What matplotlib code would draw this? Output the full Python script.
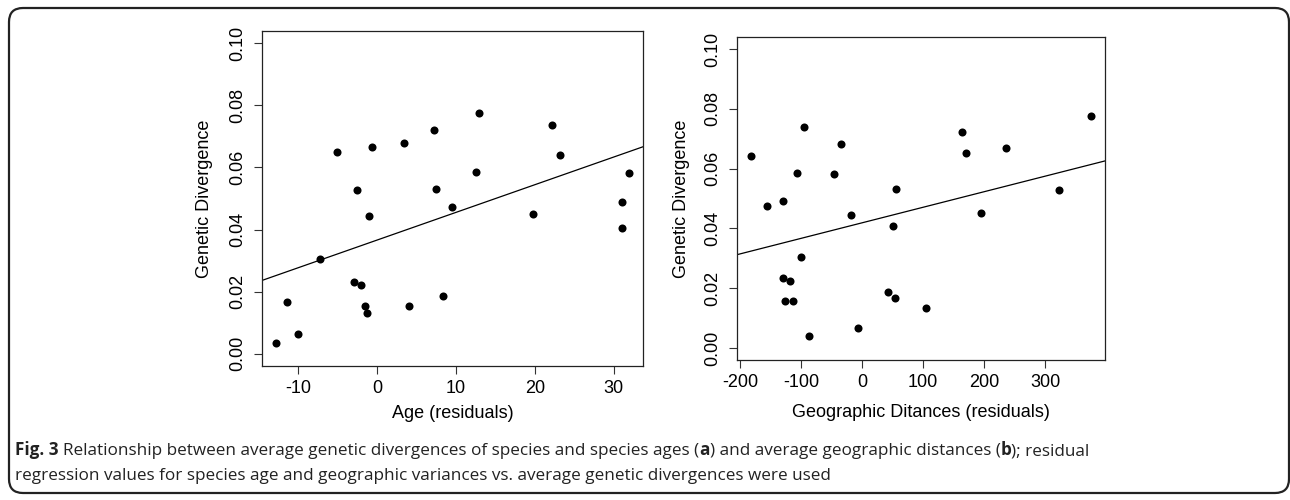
import numpy as np
import matplotlib
matplotlib.use("Agg")
import matplotlib.pyplot as plt
from matplotlib.patches import FancyBboxPatch
from matplotlib.transforms import IdentityTransform

plt.rcParams['font.family'] = ['Liberation Sans', 'DejaVu Sans']

# panel a: age residuals vs genetic divergence
age_res = [-5.1, -2.6, -0.6, 3.4, 7.2, 7.5, 12.9, 12.5, 9.5, -1.05, -7.3, -2.9, -2.1,
           -11.4, -1.5, -1.3, 4.05, 8.3, -10.0, -12.8, 22.2, 23.2, 31.9, 31.0, 19.7, 31.0]
div_a = [0.0650, 0.0528, 0.0666, 0.0680, 0.0721, 0.0530, 0.0775, 0.0585, 0.0472, 0.0444,
         0.0304, 0.0230, 0.0222, 0.0166, 0.0155, 0.0130, 0.0154, 0.0185, 0.0062, 0.0035,
         0.0737, 0.0640, 0.0581, 0.0490, 0.0449, 0.0406]

# panel b: geographic distance residuals vs genetic divergence
geo_res = [-182.5, -95.4, -106.9, -35.0, -46.4, 54.9, 163.9, 170.4, 235.3, -155.2, -129.7,
           -18.0, 50.0, 195.0, -100.3, -129.7, -118.8, -126.5, -112.3, 43.0, 54.4, 105.6,
           -6.0, -87.2, 375.8, 322.9]
div_b = [0.0641, 0.0738, 0.0586, 0.0682, 0.0583, 0.0532, 0.0722, 0.0651, 0.0668, 0.0474,
         0.0493, 0.0446, 0.0408, 0.0451, 0.0306, 0.0233, 0.0225, 0.0156, 0.0158, 0.0188,
         0.0168, 0.0133, 0.0066, 0.0039, 0.0776, 0.0529]

y_ticks = [0.00, 0.02, 0.04, 0.06, 0.08, 0.10]
y_ticklabels = ["0.00", "0.02", "0.04", "0.06", "0.08", "0.10"]

W, H = 1290, 500
fig = plt.figure(figsize=(W / 100, H / 100), dpi=100)


def px_axes(l, t, r, b):
    return fig.add_axes([l / W, (H - b) / H, (r - l) / W, (b - t) / H])


def panel(ax, x, y, xticks, xlabel, xlab_y, ylab_x):
    ax.plot(x, y, 'o', color='black', markersize=5.8, markeredgewidth=0)
    xlo = min(x) - 0.04 * (max(x) - min(x))
    xhi = max(x) + 0.04 * (max(x) - min(x))
    slope, icpt = np.polyfit(x, y, 1)
    xx = np.array([xlo, xhi])
    ax.plot(xx, icpt + slope * xx, color='black', lw=0.9)
    ax.set_xlim(xlo, xhi)
    ax.set_ylim(-0.004, 0.104)
    ax.set_xticks(xticks)
    ax.set_xticklabels([str(v) for v in xticks])
    ax.set_yticks(y_ticks)
    ax.set_yticklabels(y_ticklabels, rotation=90, va='center')
    ax.tick_params(direction='out', length=6, width=0.8, color='#333333',
                   labelsize=13, pad=4)
    ax.tick_params(axis='y', pad=5)
    for s in ax.spines.values():
        s.set_linewidth(0.9)
        s.set_color('#222222')
    ax.set_xlabel(xlabel, fontsize=13)
    ax.set_ylabel("Genetic Divergence", fontsize=13)
    ax.xaxis.set_label_coords(0.5, xlab_y)
    ax.yaxis.set_label_coords(ylab_x, 0.5)


ax1 = px_axes(262, 31, 643, 366)
panel(ax1, age_res, div_a, [-10, 0, 10, 20, 30], "Age (residuals)", -0.115, -0.129)
ax2 = px_axes(737, 37, 1105, 360)
panel(ax2, geo_res, div_b, [-200, -100, 0, 100, 200, 300],
      "Geographic Ditances (residuals)", -0.135, -0.128)

# rounded frame (pixel coords, origin bottom-left)
frame = FancyBboxPatch((9, H - 493), 1280, 485, boxstyle="round,pad=0,rounding_size=14",
                       transform=IdentityTransform(), fill=False, lw=1.6,
                       edgecolor='#222222', clip_on=False)
fig.patches.append(frame)

# caption with bold fragments
cap_font = 'Open Sans'
cap_size = 12.35
renderer = fig.canvas.get_renderer()


def width_of(s, weight):
    t = fig.text(0, 0, s, fontsize=cap_size, family=cap_font, fontweight=weight)
    w = t.get_window_extent(renderer).width
    t.remove()
    return w


def rich_line(x, y_top, pieces):
    space = width_of("a a", 'normal') - width_of("aa", 'normal')
    for txt, weight in pieces:
        lead = len(txt) - len(txt.lstrip(' '))
        x += lead * space
        core = txt.strip(' ')
        fig.text(x, H - y_top, core, fontsize=cap_size, family=cap_font,
                 fontweight=weight, transform=IdentityTransform(), va='baseline',
                 color='#222222')
        x += width_of(core, weight)
        x += (len(txt.rstrip(' ')) != len(txt)) * space


rich_line(15, 455, [("Fig. 3", 'bold'),
                    (" Relationship between average genetic divergences of species and species ages (", 'normal'),
                    ("a", 'bold'),
                    (") and average geographic distances (", 'normal'),
                    ("b", 'bold'),
                    ("); residual", 'normal')])
rich_line(15, 480, [("regression values for species age and geographic variances vs. average genetic divergences were used", 'normal')])

fig.savefig("out.png", dpi=100)
